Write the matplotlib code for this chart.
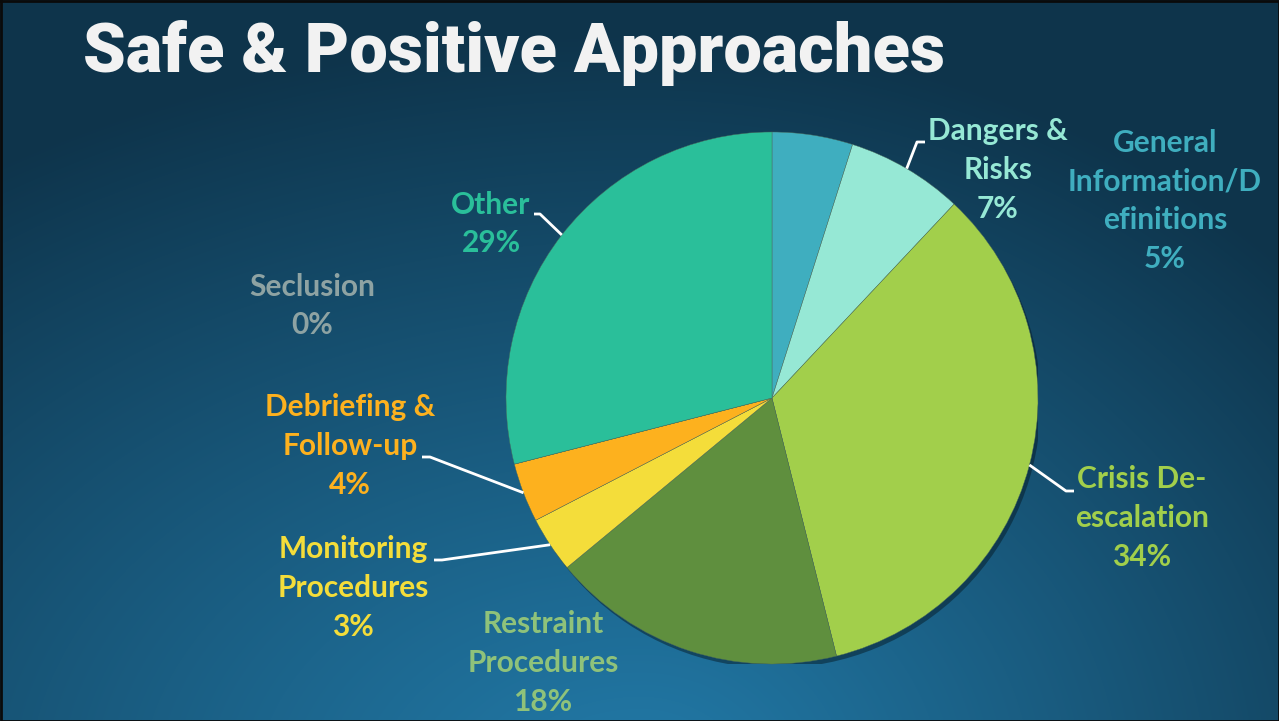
import numpy as np
import matplotlib
matplotlib.use("Agg")
import matplotlib.pyplot as plt
import matplotlib.patheffects as pe
from matplotlib.patches import Circle

# ---- data ----
categories = ["General\nInformation/D\nefinitions", "Dangers &\nRisks", "Crisis De-\nescalation",
              "Restraint\nProcedures", "Monitoring\nProcedures", "Debriefing &\nFollow-up",
              "Seclusion", "Other"]
values = [4.9, 7.1, 34.1, 17.9, 3.4, 3.6, 0.0, 29.0]
wedge_colors = ["#3FAEBF", "#96E8D5", "#A2CF4B", "#5F8F3E", "#F4DD3A", "#FDB11E", "#8EA3A3", "#2ABF9A"]
label_colors = ["#3FAEBF", "#96E8D5", "#A2CF4B", "#8FC27A", "#F4DD3A", "#FDB11E", "#8EA3A3", "#2ABF9A"]
title = "Safe & Positive Approaches"

# layout (pixels)
W, H = 1279, 721
cx, cy, R = 772, 398, 266
label_pos = [(1165, 201), (998, 170), (1142, 518), (543, 663), (353, 588), (350, 446), (312, 306), (491, 224)]
leader = {  # index: (elbow point, end point)
    7: ((540, 214), (534, 214)),
    1: ((917, 142), (925, 142)),
    2: ((1066, 491), (1074, 491)),
    5: ((430, 457), (422, 457)),
    4: ((442, 560), (434, 560)),
}

fig = plt.figure(figsize=(W / 100, H / 100), dpi=100)

# background gradient
bg = fig.add_axes([0, 0, 1, 1])
yy, xx = np.mgrid[0:H, 0:W]
dx = np.where(xx < 640, (xx - 640) / 1150.0, (xx - 640) / 900.0)
d = np.sqrt(dx ** 2 + ((yy - 790) / 760.0) ** 2)
t = np.clip(d, 0, 1) ** 1.1
c0 = np.array([0x22, 0x7A, 0xA8]) / 255.0
c1 = np.array([0x0E, 0x34, 0x4B]) / 255.0
img = c0[None, None, :] * (1 - t[..., None]) + c1[None, None, :] * t[..., None]
bg.imshow(img, extent=[0, W, H, 0], aspect="auto", interpolation="bilinear")
bg.set_xlim(0, W)
bg.set_ylim(H, 0)
bg.axis("off")
bg.plot([0.5, W - 0.5, W - 0.5, 0.5, 0.5], [0.5, 0.5, H - 0.5, H - 0.5, 0.5], color="#0A0A0A", lw=2)

# pie
pax = fig.add_axes([(cx - R) / W, (H - cy - R) / H, 2 * R / W, 2 * R / H])
shadow = Circle((0, 0), 1.0, facecolor=(0, 0, 0, 0), edgecolor="none", zorder=0)
shadow.set_path_effects([pe.SimplePatchShadow(offset=(2, -3), shadow_rgbFace="#04141c", alpha=0.45)])
pax.add_patch(shadow)
wedges, _ = pax.pie(values, colors=wedge_colors, startangle=90, counterclock=False,
                    radius=1.0, wedgeprops=dict(edgecolor="#4a6a5a", linewidth=0.3))
pax.set_xlim(-1, 1)
pax.set_ylim(-1, 1)
pax.set_aspect("equal")
pax.axis("off")

# overlay for labels and leaders
ov = fig.add_axes([0, 0, 1, 1], facecolor="none")
ov.set_xlim(0, W)
ov.set_ylim(H, 0)
ov.axis("off")

total = sum(values)
cum = 0.0
for i, v in enumerate(values):
    mid = (cum + v / 2) / total * 2 * np.pi
    cum += v
    pct = int(round(v / total * 100))
    lx, ly = label_pos[i]
    ov.text(lx, ly, f"{categories[i]}\n{pct}%", color=label_colors[i], ha="center", va="center",
            fontsize=21.5, fontfamily="Lato", fontweight="bold", linespacing=1.47)
    if i in leader:
        sx = cx + R * np.sin(mid)
        sy = cy - R * np.cos(mid)
        (ex, ey), (fx, fy) = leader[i]
        ov.plot([sx, ex, fx], [sy, ey, fy], color="white", lw=2, solid_capstyle="butt")

ov.text(83, 53, title, color="#F2F2F2", fontsize=49.3, fontfamily="Roboto", fontweight=900,
        ha="left", va="center")

fig.savefig("out.png", dpi=100)
